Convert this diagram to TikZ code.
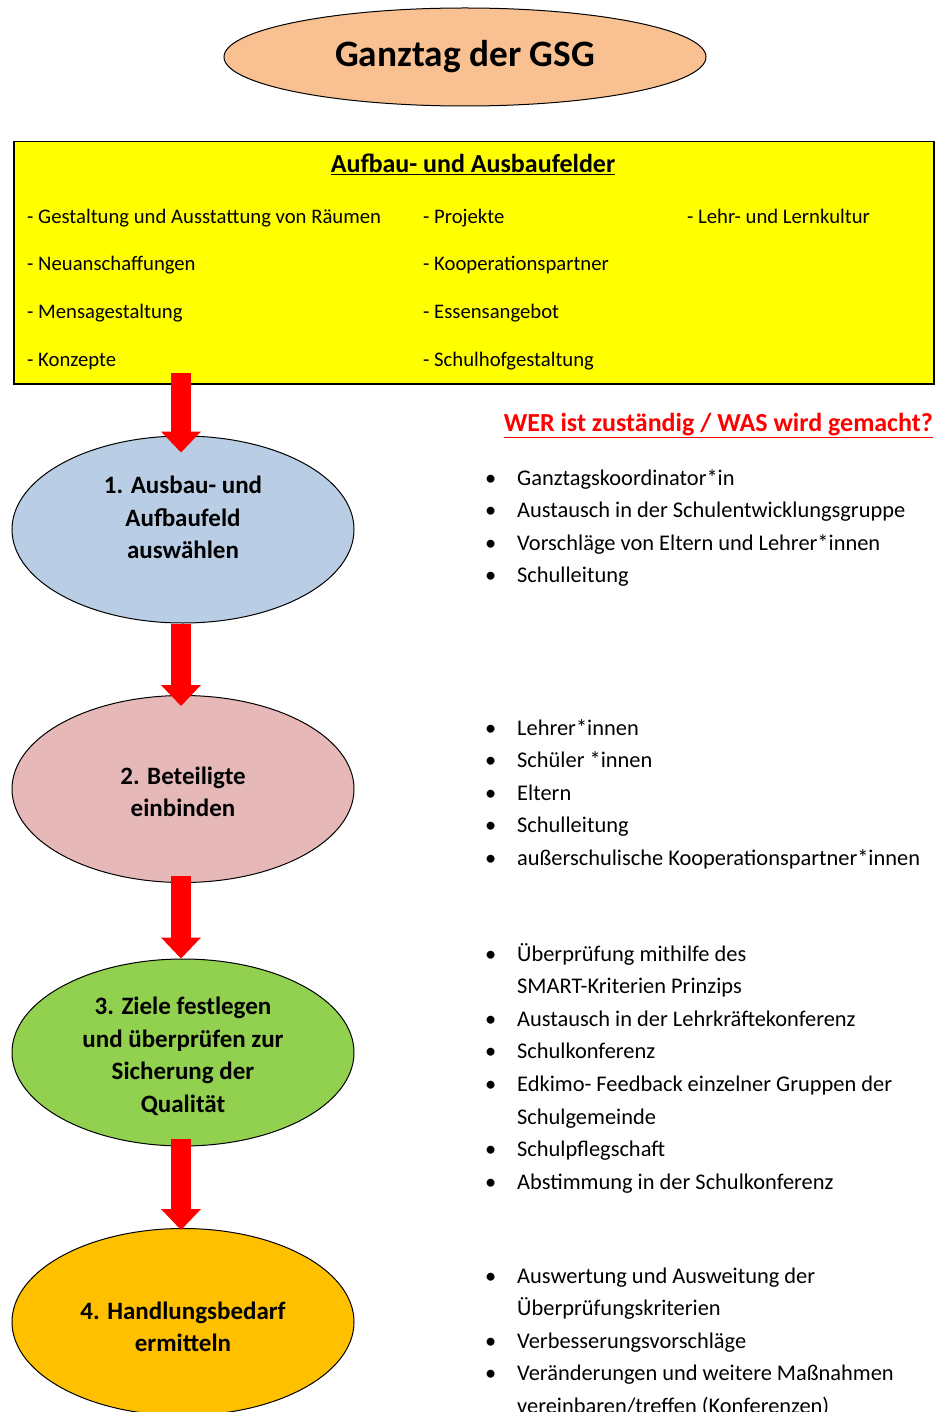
\documentclass[tikz,border=0pt]{standalone}
\usepackage{fontspec}
\setmainfont{Carlito}
\usepackage{tikz}
\usetikzlibrary{positioning}
\usetikzlibrary{shapes.geometric}
\usetikzlibrary{arrows.meta}
\usepackage{xcolor}
\definecolor{pfirsich}{HTML}{F9C192}
\definecolor{gelb}{HTML}{FFFF00}
\definecolor{hellblau}{HTML}{B9CDE5}
\definecolor{rosa}{HTML}{E6B9B8}
\definecolor{gruen}{HTML}{92D050}
\definecolor{orange}{HTML}{FFC000}
\definecolor{rot}{HTML}{FF0000}

\begin{document}
\begin{tikzpicture}[x=1pt, y=-1pt,
    feld/.style={ellipse, draw, line width=1pt, minimum width=342pt, minimum height=187pt, inner sep=0pt},
    feldtext/.style={align=center, inner sep=0pt, font=\fontsize{25}{32.5}\selectfont\bfseries},
    pfeil/.style={rot, line width=20pt, -{Triangle[width=40pt, length=21pt, line width=0pt]}},
    punkt/.style={anchor=base west, inner sep=0pt, font=\fontsize{20.7}{22}\selectfont},
    liste/.style={anchor=base west, inner sep=0pt, font=\fontsize{22.4}{32.6}\selectfont}]
    \useasboundingbox (0,0) rectangle (936,1412);

    % Titel
    \node[ellipse, draw, line width=1pt, fill=pfirsich, minimum width=482pt, minimum height=98pt,
          font=\fontsize{37.3}{40}\selectfont\bfseries] (titel) at (465,57) {Ganztag der GSG};

    % Aufbau- und Ausbaufelder
    \node[draw, line width=1.5pt, fill=gelb, minimum width=920pt, minimum height=242pt,
          anchor=north west, inner sep=0pt] (kasten) at (13,141) {};
    \node[anchor=base, inner sep=0pt, font=\fontsize{26}{28}\selectfont\bfseries] (kopf) at (473,173) {\underline{Aufbau- und Ausbaufelder}};
    \node[punkt] (f1) at (27,224) {- Gestaltung und Ausstattung von Räumen};
    \node[punkt] (f2) at (27,271) {- Neuanschaffungen};
    \node[punkt] (f3) at (27,318) {- Mensagestaltung};
    \node[punkt] (f4) at (27,366) {- Konzepte};
    \node[punkt] (f5) at (423,224) {- Projekte};
    \node[punkt] (f6) at (423,271) {- Kooperationspartner};
    \node[punkt] (f7) at (423,318) {- Essensangebot};
    \node[punkt] (f8) at (423,366) {- Schulhofgestaltung};
    \node[punkt] (f9) at (687,224) {- Lehr- und Lernkultur};

    % Schritte
    \node[feld, fill=hellblau] (e1) at (183,529.5) {};
    \node[feldtext] (t1) at ([yshift=12pt]e1.center) {1. Ausbau- und\\Aufbaufeld\\auswählen};
    \node[feld, fill=rosa] (e2) at (183,789) {};
    \node[feldtext] (t2) at ([yshift=-3pt]e2.center) {2. Beteiligte\\einbinden};
    \node[feld, fill=gruen] (e3) at (183,1052.5) {};
    \node[feldtext] (t3) at ([yshift=-4pt]e3.center) {3. Ziele festlegen\\und überprüfen zur\\Sicherung der\\Qualität};
    \node[feld, fill=orange] (e4) at (183,1322) {};
    \node[feldtext] (t4) at ([yshift=-5pt]e4.center) {4. Handlungsbedarf\\ermitteln};

    % Pfeile
    \draw[pfeil] ([xshift=-2pt, yshift=12pt]kasten.south -| e1.north) -- ([xshift=-2pt, yshift=-17pt]e1.north);
    \draw[pfeil] ([xshift=-2pt]e1.south) -- ([xshift=-2pt, yshift=-11pt]e2.north);
    \draw[pfeil] ([xshift=-2pt, yshift=7pt]e2.south) -- ([xshift=-2pt]e3.north);
    \draw[pfeil] ([xshift=-2pt, yshift=8pt]e3.south) -- ([xshift=-2pt, yshift=-2pt]e4.north);

    % WER / WAS
    \node[anchor=base east, inner sep=0pt, rot, font=\fontsize{26}{28}\selectfont\bfseries] (frage) at (933,431) {\underline{WER ist zuständig / WAS wird gemacht?}};

    \node[liste] (l1) at (485,485) {\begin{tabular}[t]{@{}p{32pt}@{}l@{}}
        \textbullet & Ganztagskoordinator*in\\
        \textbullet & Austausch in der Schulentwicklungsgruppe\\
        \textbullet & Vorschläge von Eltern und Lehrer*innen\\
        \textbullet & Schulleitung
    \end{tabular}};
    \node[liste] (l2) at (485,735) {\begin{tabular}[t]{@{}p{32pt}@{}l@{}}
        \textbullet & Lehrer*innen\\
        \textbullet & Schüler *innen\\
        \textbullet & Eltern\\
        \textbullet & Schulleitung\\
        \textbullet & außerschulische Kooperationspartner*innen
    \end{tabular}};
    \node[liste] (l3) at (485,961) {\begin{tabular}[t]{@{}p{32pt}@{}l@{}}
        \textbullet & Überprüfung mithilfe des\\
                    & SMART-Kriterien Prinzips\\
        \textbullet & Austausch in der Lehrkräftekonferenz\\
        \textbullet & Schulkonferenz\\
        \textbullet & Edkimo- Feedback einzelner Gruppen der\\
                    & Schulgemeinde\\
        \textbullet & Schulpflegschaft\\
        \textbullet & Abstimmung in der Schulkonferenz
    \end{tabular}};
    \node[liste] (l4) at (485,1283) {\begin{tabular}[t]{@{}p{32pt}@{}l@{}}
        \textbullet & Auswertung und Ausweitung der\\
                    & Überprüfungskriterien\\
        \textbullet & Verbesserungsvorschläge\\
        \textbullet & Veränderungen und weitere Maßnahmen\\
                    & vereinbaren/treffen (Konferenzen)
    \end{tabular}};
\end{tikzpicture}
\end{document}
